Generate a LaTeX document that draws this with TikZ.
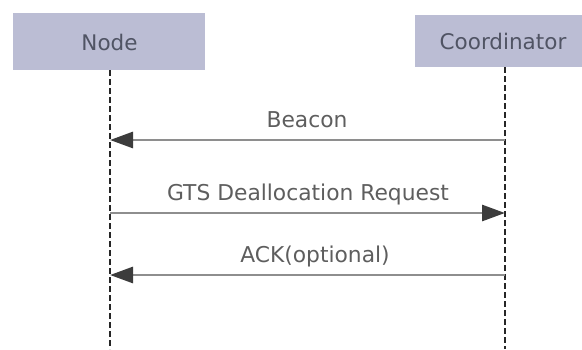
\documentclass[tikz,border=0pt]{standalone}
\usepackage{fontspec}
\setmainfont{DejaVu Sans}
\usetikzlibrary{arrows.meta}
\definecolor{boxfill}{HTML}{BBBDD4}
\definecolor{boxtext}{HTML}{505464}
\definecolor{msgtext}{HTML}{5E5E5E}
\definecolor{msgline}{HTML}{8E8E8E}
\definecolor{tipcol}{HTML}{3C3C3C}
\begin{document}
\begin{tikzpicture}[x=1pt,y=-1pt,
  actor/.style={fill=boxfill, draw=none, inner sep=0pt, anchor=north west},
  actorlabel/.style={text=boxtext, font=\fontsize{21.5}{25}\selectfont, inner sep=0pt, anchor=base},
  lifeline/.style={line width=2pt, dash pattern=on 6pt off 3pt, black!85},
  msg/.style={line width=2.8pt, draw=msgline, -{Triangle[length=23pt,width=16pt,color=tipcol]}},
  msglabel/.style={text=msgtext, font=\fontsize{21.8}{26}\selectfont, inner sep=0pt, anchor=base}]
\useasboundingbox (0,0) rectangle (582,349);
\node[actor, minimum width=192pt, minimum height=57pt] (nodebox) at (13,13) {};
\node[actor, minimum width=170pt, minimum height=52pt] (coordbox) at (415,15) {};
\node[actorlabel] (nodelabel) at (109.5,50) {Node};
\node[actorlabel] (coordlabel) at (503,49) {Coordinator};
% lifelines
\coordinate (ltop) at (110,70);
\coordinate (lbot) at (110,349);
\coordinate (rtop) at (505,67);
\coordinate (rbot) at (505,349);
\draw[lifeline] (ltop) -- (lbot);
\draw[lifeline] (rtop) -- (rbot);
% message anchor points
\coordinate (r1) at (505,140);
\coordinate (l1) at (110,140);
\coordinate (l2) at (110,213);
\coordinate (r2) at (505,213);
\coordinate (r3) at (505,275);
\coordinate (l3) at (110,275);
\draw[msg] (r1) -- (l1);
\draw[msg] (l2) -- (r2);
\draw[msg] (r3) -- (l3);
\node[msglabel] (m1) at (307,127) {Beacon};
\node[msglabel] (m2) at (308,200) {GTS Deallocation Request};
\node[msglabel] (m3) at (315,262) {ACK(optional)};
\end{tikzpicture}
\end{document}
